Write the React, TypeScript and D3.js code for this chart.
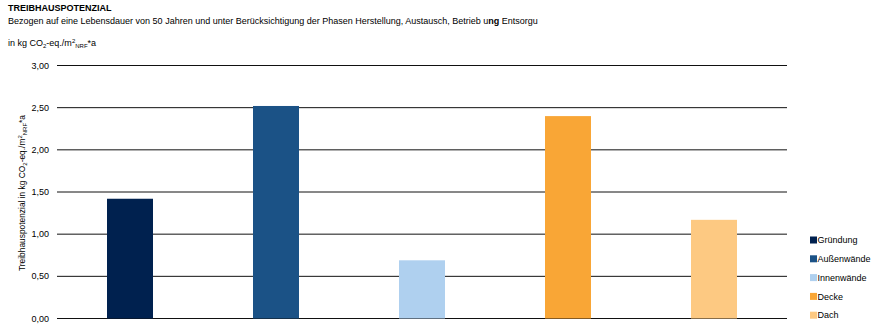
import React from "react";
import * as d3 from "d3";

const categories = ["Gründung", "Außenwände", "Innenwände", "Decke", "Dach"];
const values = [1.42, 2.52, 0.69, 2.4, 1.17];
const colors = ["#00214f", "#1b5286", "#afd0ef", "#f9a636", "#fdc982"];
const yTicks = [0, 0.5, 1, 1.5, 2, 2.5, 3];
const tickLabels = ["0,00", "0,50", "1,00", "1,50", "2,00", "2,50", "3,00"];

const W = 885;
const H = 324;
const FONT = "'Liberation Sans', Arial, sans-serif";

export default function App() {
  const x = d3.scaleBand<string>().domain(categories).range([57, 787]).paddingInner(0.685).paddingOuter(0.3425);
  const y = d3.scaleLinear().domain([0, 3]).range([318.5, 65.5]);

  return (
    <svg width={W} height={H} style={{ position: "absolute", left: 0, top: 0, background: "#fff" }} fontFamily={FONT}>
      <text x={8} y={11} fontSize={9} fontWeight="bold" fill="#000">TREIBHAUSPOTENZIAL</text>
      <text x={8} y={24} fontSize={9} fill="#000">
        Bezogen auf eine Lebensdauer von 50 Jahren und unter Berücksichtigung der Phasen Herstellung, Austausch, Betrieb u<tspan fontWeight="bold">ng</tspan> Entsorgu
      </text>
      <text x={8} y={46} fontSize={9} fill="#000">
        in kg CO<tspan fontSize={6} dy={2}>2</tspan><tspan dy={-2}>-eq./m</tspan><tspan fontSize={6} dy={-3}>2</tspan><tspan fontSize={6} dy={5}>NRF</tspan><tspan dy={-2}>*a</tspan>
      </text>

      {yTicks.map((t, i) => (
        <g key={t}>
          <line x1={57} x2={787} y1={y(t)} y2={y(t)} stroke="#111" strokeWidth={1} />
          <text x={49} y={y(t)} dy="0.35em" fontSize={9} textAnchor="end" fill="#000">{tickLabels[i]}</text>
        </g>
      ))}

      {categories.map((c, i) => (
        <rect key={c} x={x(c)} width={x.bandwidth()} y={y(values[i])} height={y(0) - y(values[i])} fill={colors[i]} />
      ))}

      <text transform="translate(25,193) rotate(-90)" fontSize={8.4} textAnchor="middle" fill="#000">
        Treibhauspotenzial in kg CO<tspan fontSize={6} dy={2}>2</tspan><tspan dy={-2}>-eq./m</tspan><tspan fontSize={6} dy={-3}>2</tspan><tspan fontSize={6} dy={5}>NRF</tspan><tspan dy={-2}>*a</tspan>
      </text>

      {categories.map((c, i) => (
        <g key={c} transform={`translate(810,${240 + i * 18.8})`}>
          <rect x={0} y={-3.5} width={7} height={7} fill={colors[i]} />
          <text x={7.5} y={0} dy="0.35em" fontSize={9} fill="#000">{c}</text>
        </g>
      ))}
    </svg>
  );
}
